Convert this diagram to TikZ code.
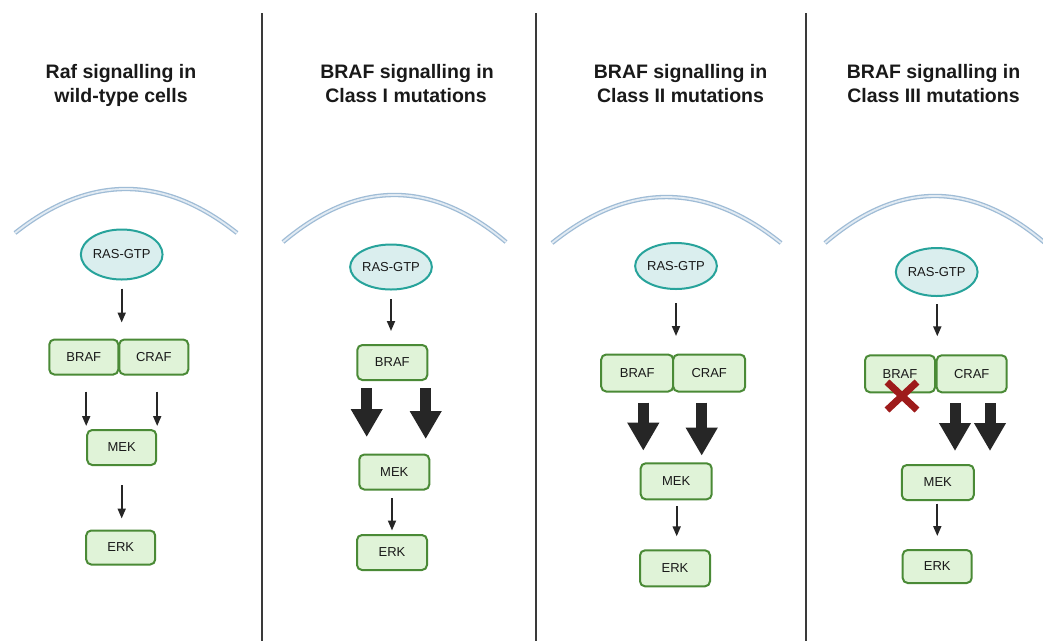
\documentclass[tikz,border=0pt]{standalone}
\usepackage{fontspec}
\setmainfont{Liberation Sans}
\usetikzlibrary{arrows.meta,shapes.geometric,calc}
\definecolor{boxfill}{HTML}{E0F3D8}
\definecolor{boxborder}{HTML}{4A8A36}
\definecolor{rasfill}{HTML}{DAEEEE}
\definecolor{rasborder}{HTML}{27A39B}
\definecolor{membrane}{HTML}{9FBCD6}
\definecolor{divider}{HTML}{3A3A3A}
\definecolor{arrowgray}{HTML}{262626}
\definecolor{crossred}{HTML}{9E1B1B}
\tikzset{
  box/.style={draw=boxborder, fill=boxfill, rounded corners=5pt, line width=2pt,
    minimum width=70pt, minimum height=35pt, inner sep=0pt, text=black!90,
    font=\fontsize{13}{15}\selectfont},
  ras/.style={ellipse, draw=rasborder, fill=rasfill, line width=2pt,
    minimum width=71pt, minimum height=48pt, inner sep=0pt, text=black!90,
    font=\fontsize{13}{15}\selectfont},
  title/.style={anchor=base, font=\fontsize{19.5}{23.5}\selectfont\bfseries, text=black!90},
  thinarrow/.style={-{Triangle[width=8pt,length=10pt]}, line width=1.8pt, draw=arrowgray},
  thickarrow/.style={-{Triangle[width=30pt,length=28pt]}, line width=11pt, draw=arrowgray},
  memb/.style={draw=membrane, line width=1.3pt, double=membrane!30, double distance=1.8pt},
  divline/.style={draw=divider, line width=2pt},
  cross/.style={draw=crossred, line width=7pt}
}
\begin{document}
\begin{tikzpicture}[x=1pt,y=-1pt]
\clip (0,0) rectangle (1043,641);
\fill[white] (0,0) rectangle (1043,641);

% dividers
\draw[divline] (262,13) -- (262,641);
\draw[divline] (535.5,13) -- (535.5,641);
\draw[divline] (805.5,13) -- (805.5,641);

% titles
\node[title] (t1a) at (121,78.5) {Raf signalling in};
\node[title] (t1b) at (121,102) {wild-type cells};
\node[title] (t2a) at (407,78.5) {BRAF signalling in};
\node[title] (t2b) at (406,102) {Class I mutations};
\node[title] (t3a) at (680.5,78.5) {BRAF signalling in};
\node[title] (t3b) at (680.5,102) {Class II mutations};
\node[title] (t4a) at (933.5,78.5) {BRAF signalling in};
\node[title] (t4b) at (933.5,102) {Class III mutations};

% membranes
\draw[memb] (15,233) .. controls (89,174.3) and (163,174.3) .. (237,233);
\draw[memb] (283,242) .. controls (357.3,179.3) and (431.7,179.3) .. (506,242);
\draw[memb] (552,243) .. controls (628.3,181.7) and (704.7,181.7) .. (781,243);
\draw[memb] (825,243) .. controls (898.3,180.3) and (971.7,180.3) .. (1045,243);

% ---------- Panel 1 ----------
\node[ras, minimum height=50pt, minimum width=70pt] (ras1) at (121.7,254.5) {RAS-GTP};
\node[box, minimum width=69pt] (b1) at (83.8,357) {BRAF};
\node[box, minimum width=69pt] (c1) at (153.8,357) {CRAF};
\node[box, minimum width=69pt] (m1) at (121.7,447.5) {MEK};
\node[box, minimum width=69pt, minimum height=34pt] (e1) at (120.7,547.5) {ERK};
\draw[thinarrow] ($(ras1.south)+(0,8)$) -- ($(ras1.south |- b1.north)+(0,-16)$);
\draw[thinarrow] ($(m1.north west |- b1.south)+(0,16)$) -- ($(m1.north west)+(0,-3)$);
\draw[thinarrow] ($(m1.north east |- c1.south)+(0,16)$) -- ($(m1.north east)+(0,-3)$);
\draw[thinarrow] ($(m1.south)+(0,19)$) -- ($(m1.south |- e1.north)+(0,-11)$);

% ---------- Panel 2 ----------
\node[ras, minimum height=45pt] (ras2) at (391,267) {RAS-GTP};
\node[box] (b2) at (392.3,362.5) {BRAF};
\node[box] (m2) at (394.3,472) {MEK};
\node[box] (e2) at (392,552.5) {ERK};
\draw[thinarrow] ($(ras2.south)+(0,8.5)$) -- ($(ras2.south |- b2.north)+(0,-13)$);
\draw[thickarrow] ($(b2.south)+(-25.6,7)$) -- ($(b2.south |- m2.north)+(-25.6,-16.5)$);
\draw[thickarrow] ($(b2.south)+(33.4,7)$) -- ($(b2.south |- m2.north)+(33.4,-14.5)$);
\draw[thinarrow] ($(e2.north |- m2.south)+(0,7.5)$) -- ($(e2.north)+(0,-3.5)$);

% ---------- Panel 3 ----------
\node[ras, minimum width=72pt, minimum height=46pt] (ras3) at (676,266) {RAS-GTP};
\node[box, minimum width=72pt, minimum height=37pt] (b3) at (637.2,373) {BRAF};
\node[box, minimum width=72pt, minimum height=37pt] (c3) at (709.2,373) {CRAF};
\node[box, minimum width=71pt, minimum height=36pt] (m3) at (676.2,481.3) {MEK};
\node[box, minimum height=36pt] (e3) at (675,568.3) {ERK};
\draw[thinarrow] ($(ras3.south)+(0,13)$) -- ($(ras3.south |- b3.north)+(0,-17.5)$);
\draw[thickarrow] ($(b3.south)+(6.1,10)$) -- ($(b3.south |- m3.north)+(6.1,-11.6)$);
\draw[thickarrow] ($(c3.south)+(-7.5,10)$) -- ($(c3.south |- m3.north)+(-7.5,-6.6)$);
\draw[thinarrow] ($(m3.south)+(0.5,6)$) -- ($(m3.south |- e3.north)+(0.5,-13)$);

% ---------- Panel 4 ----------
\node[ras, minimum width=70pt, minimum height=48pt] (ras4) at (936.7,272) {RAS-GTP};
\node[box, minimum height=37pt] (b4) at (900,373.8) {BRAF};
\node[box, minimum height=37pt] (c4) at (971.7,373.8) {CRAF};
\node[box, minimum width=72pt] (m4) at (937.8,482.5) {MEK};
\node[box, minimum width=69pt, minimum height=33pt] (e4) at (937.2,566.5) {ERK};
\draw[thinarrow] ($(ras4.south)+(0.6,7)$) -- ($(ras4.south |- b4.north)+(0.6,-18)$);
\draw[thickarrow] ($(c4.south)+(-16.7,9.7)$) -- ($(c4.south |- m4.north)+(-16.7,-13)$);
\draw[thickarrow] ($(c4.south)+(18.3,9.7)$) -- ($(c4.south |- m4.north)+(18.3,-13)$);
\draw[thinarrow] ($(m4.south)+(-0.5,2.5)$) -- ($(m4.south |- e4.north)+(-0.5,-13)$);
\draw[cross] (887,382) -- (917,410);
\draw[cross] (917,382) -- (887,410);
\end{tikzpicture}
\end{document}
